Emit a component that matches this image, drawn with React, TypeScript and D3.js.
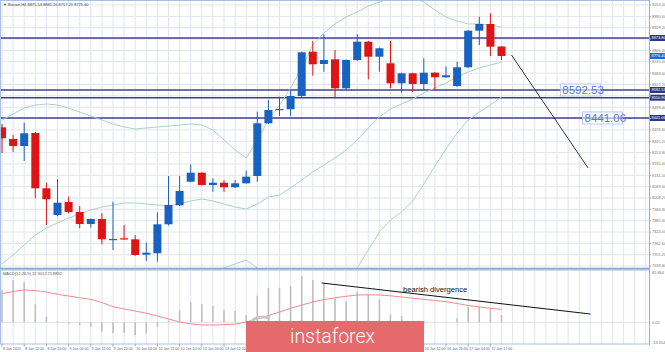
import { useEffect, useRef } from "react";
import * as d3 from "d3";

// H4 candles
const opens = [8390.7, 8327.4, 8289.5, 8359.9, 8060.7, 7916.2, 7986.6, 7932.5, 7867.6, 7894.6, 7782.6, 7790.2, 7784.8, 7701.5, 7709.1, 7865.9, 7968.7, 8096.4, 8145.1, 8078.5, 8091.0, 8066.1, 8087.7, 8127.2, 8412.3, 8484.3, 8488.1, 8560.0, 8799.7, 8733.2, 8758.6, 8601.7, 8754.8, 8853.8, 8772.7, 8736.9, 8628.7, 8682.8, 8625.0, 8686.1, 8661.2, 8614.1, 8715.3, 8913.3, 8949.6, 8827.8];
const highs = [8408.6, 8349.0, 8415.6, 8365.0, 8091.0, 8109.4, 8015.3, 7964.9, 7897.0, 7925.5, 7988.2, 7862.1, 7808.0, 7766.4, 7930.9, 8127.2, 8127.2, 8190.5, 8148.0, 8114.8, 8105.6, 8105.6, 8155.9, 8475.1, 8538.4, 8556.3, 8592.5, 8800.0, 8857.6, 8893.8, 8808.9, 8758.0, 8893.8, 8858.0, 8822.0, 8857.6, 8686.0, 8686.0, 8764.0, 8690.0, 8720.0, 8745.6, 8916.0, 8989.1, 9007.4, 8830.0];
const lows = [8251.7, 8258.7, 8208.4, 8006.6, 7862.1, 7910.0, 7925.0, 7844.3, 7847.5, 7757.7, 7726.9, 7782.0, 7695.0, 7667.4, 7663.6, 7860.0, 7965.0, 8093.0, 8075.0, 8042.3, 8042.3, 8062.0, 8085.0, 8096.4, 8408.0, 8451.8, 8451.8, 8555.0, 8669.9, 8691.5, 8547.6, 8592.5, 8750.0, 8650.4, 8691.5, 8601.7, 8577.9, 8581.7, 8592.5, 8592.5, 8658.0, 8610.0, 8712.0, 8835.9, 8776.4, 8754.8];
const closes = [8331.2, 8289.5, 8358.2, 8060.7, 8001.2, 7982.8, 7932.5, 7867.6, 7894.6, 7784.8, 7786.4, 7784.8, 7699.8, 7712.3, 7865.9, 7970.3, 8046.1, 8145.1, 8078.5, 8091.0, 8066.1, 8087.7, 8123.5, 8412.3, 8484.3, 8489.7, 8560.0, 8796.5, 8731.5, 8754.8, 8601.7, 8754.8, 8853.8, 8772.7, 8818.1, 8628.7, 8682.8, 8625.0, 8686.1, 8661.2, 8672.0, 8715.3, 8913.3, 8949.6, 8826.8, 8776.4];

// bollinger bands
const bandUpper = [8430.2, 8462.7, 8495.1, 8511.3, 8516.8, 8511.3, 8495.1, 8473.5, 8451.8, 8430.2, 8408.6, 8392.3, 8381.5, 8386.9, 8392.3, 8397.7, 8403.1, 8408.6, 8403.1, 8376.1, 8322.0, 8267.9, 8224.6, 8322.0, 8430.2, 8511.3, 8603.3, 8711.5, 8835.9, 8900.9, 8949.6, 8987.4, 9014.5, 9046.9, 9068.6, 9090.2, 9101.0, 9095.6, 9068.6, 9025.3, 8987.4, 8965.8, 8949.6, 8949.6, 8944.1, 8933.3];
const bandMiddle = [7651.2, 7699.8, 7753.9, 7808.0, 7845.9, 7873.0, 7900.0, 7921.7, 7943.3, 7959.5, 7970.3, 7981.2, 7981.2, 7975.8, 7970.3, 7964.9, 7975.8, 7992.0, 8002.8, 7992.0, 7975.8, 7959.5, 7948.7, 7975.8, 8013.6, 8024.4, 8062.3, 8105.6, 8148.9, 8186.7, 8224.6, 8267.9, 8322.0, 8386.9, 8446.4, 8489.7, 8516.8, 8543.8, 8576.3, 8603.3, 8630.4, 8662.8, 8689.9, 8711.5, 8727.7, 8744.0];
const bandLower = [6872.1, 6937.0, 7012.8, 7104.7, 7175.1, 7234.6, 7304.9, 7369.8, 7434.8, 7488.9, 7532.1, 7570.0, 7580.8, 7564.6, 7548.4, 7532.1, 7548.4, 7575.4, 7602.5, 7607.9, 7629.5, 7651.2, 7672.8, 7629.5, 7597.1, 7537.5, 7521.3, 7499.7, 7461.8, 7472.6, 7499.7, 7548.4, 7629.5, 7726.9, 7824.3, 7889.2, 7932.5, 7992.0, 8084.0, 8181.3, 8273.3, 8359.9, 8430.2, 8473.5, 8511.3, 8554.6];

// MACD panel
const macdMain = [55, 71.2, 67.3, 30.3, 9.4, 2.0, -3.0, -4.5, -7.4, -15.8, -18.5, -17.5, -21.4, -18.5, -7.4, 3.0, 20.7, 33.7, 30.3, 27.4, 20.7, 19.0, 12.0, 44.8, 58.2, 58.2, 61.1, 78.5, 71.2, 65.7, 40.4, 35.0, 51.5, 47.1, 38.7, 13.5, 10.6, 2.0, -2.0, 0.5, 1.0, 6.7, 26.3, 26.3, 23.6, 12.3];
const macdSignal = [48.0, 51.9, 54.4, 53.5, 51.0, 47.1, 44.3, 41.4, 38.7, 33.3, 26.3, 22.4, 19.0, 15.3, 10.6, 5.6, 0.5, -2.4, -4.5, -4.5, -4.0, -2.9, 0.5, 5.6, 11.4, 17.3, 23.6, 29.1, 34.2, 38.4, 41.2, 43.8, 46.0, 46.3, 46.0, 44.6, 42.6, 40.6, 38.7, 36.7, 34.7, 31.6, 28.3, 25.8, 23.6, 21.9];

const levels = [8873.8, 8592.53, 8550.9, 8441.06];
const levelLabels = ["8873.80", "8592.53", "8550.90", "8441.06"];
const priceTicks = ["9052.00", "8990.60", "8929.20", "8867.80", "8806.40", "8745.00", "8683.60", "8622.20", "8560.80", "8499.40", "8438.00", "8376.60", "8315.20", "8253.80", "8192.40", "8131.00", "8069.60", "8008.20", "7946.80", "7885.40", "7824.00", "7762.60", "7701.20", "7639.80"];
const timeLabels = ["8 Jan 2020", "8 Jan 12:00", "8 Jan 20:00", "9 Jan 04:00", "9 Jan 12:00", "9 Jan 20:00", "10 Jan 04:00", "10 Jan 12:00", "10 Jan 20:00", "13 Jan 04:00", "13 Jan 12:00", "13 Jan 20:00", "14 Jan 04:00", "14 Jan 12:00", "14 Jan 20:00", "15 Jan 04:00", "15 Jan 12:00", "15 Jan 20:00", "16 Jan 04:00", "16 Jan 12:00", "16 Jan 20:00", "17 Jan 04:00", "17 Jan 12:00"];

// drawn objects: [candle index, value]
const trendLine = [[45.9, 8781.9], [52.8, 8170.5]];
const divergenceLine = [[28.8, 66.2], [53.0, 14.0]];
const chartTags = [{ text: "8592.53", at: 50.3, price: 8592.53 }, { text: "8441.06", at: 52.3, price: 8441.06 }];

const W = 665;
const H = 352;
const font = "'Liberation Sans', Arial, sans-serif";

const App = () => {
  const svgRef = useRef<SVGSVGElement>(null);

  useEffect(() => {
    document.body.style.margin = "0";
    const svg = d3.select(svgRef.current);
    svg.selectAll("*").remove();

    const x = d3.scaleLinear().domain([0, 58]).range([2, 2 + 11.1 * 58]);
    const y = d3.scaleLinear().domain([7629.52, 9068.58]).range([268, 2]);
    const yM = d3.scaleLinear().domain([-36.5, 88.05]).range([344, 270]);

    svg.append("rect").attr("width", W).attr("height", H).attr("fill", "#fff");

    const defs = svg.append("defs");
    defs.append("clipPath").attr("id", "clipMain")
      .append("rect").attr("x", 1).attr("y", 1).attr("width", 648).attr("height", 267);
    defs.append("clipPath").attr("id", "clipInd")
      .append("rect").attr("x", 1).attr("y", 270).attr("width", 648).attr("height", 74);
    defs.append("clipPath").attr("id", "clipAxis")
      .append("rect").attr("x", 650).attr("y", 0).attr("width", 15).attr("height", 352);

    const main = svg.append("g").attr("clip-path", "url(#clipMain)");
    const ind = svg.append("g").attr("clip-path", "url(#clipInd)");
    const cols = d3.range(0, 59);

    // grid
    main.selectAll(".vg").data(cols).enter().append("line")
      .attr("x1", d => x(d)).attr("x2", d => x(d)).attr("y1", 1).attr("y2", 268)
      .attr("stroke", "#e2e5ed").attr("stroke-width", 1);
    main.selectAll(".hg").data(priceTicks).enter().append("line")
      .attr("x1", 1).attr("x2", 649).attr("y1", d => y(+d)).attr("y2", d => y(+d))
      .attr("stroke", "#e2e5ed").attr("stroke-width", 1);
    ind.selectAll(".vg").data(cols).enter().append("line")
      .attr("x1", d => x(d)).attr("x2", d => x(d)).attr("y1", 270).attr("y2", 344)
      .attr("stroke", "#e2e5ed").attr("stroke-width", 1);
    ind.append("line").attr("x1", 1).attr("x2", 649).attr("y1", yM(0)).attr("y2", yM(0))
      .attr("stroke", "#dfe3ea");

    // levels
    main.selectAll(".lvl").data(levels).enter().append("line")
      .attr("x1", 1).attr("x2", 649).attr("y1", d => y(d)).attr("y2", d => y(d))
      .attr("stroke", "#3f3f92").attr("stroke-width", 1.5);

    // bands
    const band = d3.line<number>().x((d, i) => x(i)).y(d => y(d));
    [bandUpper, bandMiddle, bandLower].forEach(b => {
      main.append("path").attr("d", band(b)).attr("fill", "none")
        .attr("stroke", "#a6d6bf").attr("stroke-width", 1);
    });

    // candles
    const idx = d3.range(opens.length);
    const colour = (i: number) => (closes[i] >= opens[i] ? "#1862c2" : "#e01414");
    main.selectAll(".wick").data(idx).enter().append("line")
      .attr("x1", i => x(i)).attr("x2", i => x(i))
      .attr("y1", i => y(highs[i])).attr("y2", i => y(lows[i]))
      .attr("stroke", colour).attr("stroke-width", 1);
    main.selectAll(".body").data(idx).enter().append("rect")
      .attr("x", i => x(i) - 4).attr("width", 8)
      .attr("y", i => y(Math.max(opens[i], closes[i])))
      .attr("height", i => Math.max(1.2, Math.abs(y(opens[i]) - y(closes[i]))))
      .attr("fill", colour);

    // trend line
    main.append("line")
      .attr("x1", x(trendLine[0][0])).attr("y1", y(trendLine[0][1]))
      .attr("x2", x(trendLine[1][0])).attr("y2", y(trendLine[1][1]))
      .attr("stroke", "#333").attr("stroke-width", 1);

    // price tags on chart
    chartTags.forEach(t => {
      const g = main.append("g");
      g.append("rect").attr("x", x(t.at)).attr("y", y(t.price) - 6).attr("width", 40).attr("height", 12)
        .attr("fill", "rgba(255,255,255,0.6)").attr("stroke", "#a9bdea").attr("stroke-width", 0.8);
      g.append("text").attr("x", x(t.at) + 2).attr("y", y(t.price) + 4.2)
        .attr("font-family", font).attr("font-size", 11.5).attr("fill", "#5878d8").text(t.text);
    });

    // MACD
    ind.selectAll(".hist").data(idx).enter().append("line")
      .attr("x1", i => x(i)).attr("x2", i => x(i))
      .attr("y1", yM(0)).attr("y2", i => yM(macdMain[i]))
      .attr("stroke", "#bdbdbd").attr("stroke-width", 1.5);
    const sig = d3.line<number>().x((d, i) => x(i)).y(d => yM(d));
    ind.append("path").attr("d", sig(macdSignal)).attr("fill", "none")
      .attr("stroke", "#f08c8c").attr("stroke-width", 1);
    ind.append("line")
      .attr("x1", x(divergenceLine[0][0])).attr("y1", yM(divergenceLine[0][1]))
      .attr("x2", x(divergenceLine[1][0])).attr("y2", yM(divergenceLine[1][1]))
      .attr("stroke", "#111").attr("stroke-width", 1);
    svg.append("text").attr("x", 403).attr("y", 292).attr("font-family", font)
      .attr("font-size", 7.6).attr("fill", "#111").text("bearish divergence");
    svg.append("text").attr("x", 3).attr("y", 275).attr("font-family", font)
      .attr("font-size", 4).attr("fill", "#556").text("MACD(12,26,9) 12.3012 21.8892");

    // frames
    svg.append("rect").attr("x", 0.5).attr("y", 0.5).attr("width", 649).attr("height", 268)
      .attr("fill", "none").attr("stroke", "#a9c1e2");
    svg.append("line").attr("x1", 0).attr("x2", 650).attr("y1", 268.8).attr("y2", 268.8)
      .attr("stroke", "#86a8d6").attr("stroke-width", 2);
    svg.append("rect").attr("x", 0.5).attr("y", 270).attr("width", 649).attr("height", 74)
      .attr("fill", "none").attr("stroke", "#a9c1e2");

    // header
    svg.append("text").attr("x", 3).attr("y", 5.5).attr("font-family", font)
      .attr("font-size", 4).attr("fill", "#445")
      .text("\u25BC Bitcoin,H4  8875.53 8881.26 8757.29 8779.60");

    // right price axis
    const last = closes[closes.length - 1];
    const boxed = levels.concat([last]);
    const freeTicks = priceTicks.filter(t => boxed.every(l => Math.abs(y(+t) - y(l)) > 5));
    const ax = svg.append("g").attr("font-family", font).attr("font-size", 3.9).attr("clip-path", "url(#clipAxis)");
    ax.selectAll(".pt").data(freeTicks).enter().append("text")
      .attr("x", 652).attr("y", d => y(+d) + 1.4).attr("fill", "#777").text(d => d);
    svg.selectAll(".tk").data(priceTicks).enter().append("line")
      .attr("x1", 649).attr("x2", 651).attr("y1", d => y(+d)).attr("y2", d => y(+d)).attr("stroke", "#9ab");
    levels.forEach((l, k) => {
      ax.append("rect").attr("x", 650).attr("y", y(l) - 3).attr("width", 15).attr("height", 6).attr("fill", "#2f3586");
      ax.append("text").attr("x", 651.5).attr("y", y(l) + 1.4).attr("fill", "#fff").text(levelLabels[k]);
    });
    ax.append("rect").attr("x", 650).attr("y", y(last) - 3).attr("width", 15).attr("height", 6).attr("fill", "#1d6ad6");
    ax.append("text").attr("x", 651.5).attr("y", y(last) + 1.4).attr("fill", "#fff").text(last.toFixed(2));
    ax.append("text").attr("x", 652).attr("y", 274).attr("fill", "#777").text("85.864");
    ax.append("text").attr("x", 652).attr("y", yM(0) + 1.4).attr("fill", "#777").text("0.00");
    ax.append("text").attr("x", 652).attr("y", 343.5).attr("fill", "#777").text("-33.054");
    svg.append("line").attr("x1", 649.5).attr("x2", 649.5).attr("y1", 0).attr("y2", 345)
      .attr("stroke", "#8fb0d8").attr("stroke-width", 1);

    // time axis
    const ta = svg.append("g").attr("font-family", font).attr("font-size", 3.6).attr("fill", "#667");
    ta.selectAll("text").data(timeLabels).enter().append("text")
      .attr("x", (d, k) => x(k * 2) + 1).attr("y", 349.5).text(d => d);
    ta.selectAll("line").data(timeLabels).enter().append("line")
      .attr("x1", (d, k) => x(k * 2)).attr("x2", (d, k) => x(k * 2))
      .attr("y1", 344).attr("y2", 346.5).attr("stroke", "#9ab");

    // watermark
    svg.append("path").attr("d", "M247,331 Q251,313 270,318").attr("fill", "none")
      .attr("stroke", "#c8c8c8").attr("stroke-width", 3);
    svg.append("rect").attr("x", 246).attr("y", 321).attr("width", 178).attr("height", 31).attr("fill", "#e6696b");
    svg.append("text").attr("x", 290).attr("y", 343).attr("font-family", "Roboto, 'Open Sans', sans-serif")
      .attr("font-weight", 300).attr("font-size", 21).attr("fill", "#fff")
      .attr("textLength", 85).attr("lengthAdjust", "spacingAndGlyphs").text("instaforex");
  }, []);

  return (
    <div>
      <svg ref={svgRef} width={W} height={H} style={{ display: "block" }} />
    </div>
  );
};

export default App;
